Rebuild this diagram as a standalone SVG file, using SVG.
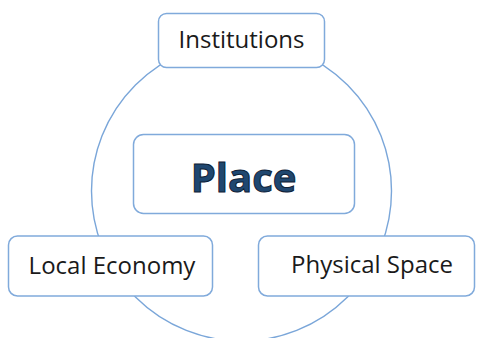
<svg xmlns="http://www.w3.org/2000/svg" width="477" height="338" viewBox="0 0 477 338">
<style>
.box{fill:#ffffff;stroke:#80aadb;stroke-width:1.5}
.lbl{font-family:"Open Sans","Noto Sans",sans-serif;font-size:24px;fill:#1a1a1a;text-anchor:middle}
.main{font-family:"Open Sans","Noto Sans",sans-serif;font-size:40px;font-weight:bold;fill:#1f4770;stroke:#0e2035;stroke-width:1;text-anchor:middle}
</style>
<rect width="477" height="338" fill="#ffffff"/>
<g id="connectors">
<circle cx="241.5" cy="191" r="150" fill="none" stroke="#7aa6d9" stroke-width="1.4"/>
</g>
<g id="institutions">
<rect class="box" x="158.5" y="13.5" width="166" height="54" rx="8"/>
<text class="lbl" x="241.5" y="48">Institutions</text>
</g>
<g id="place">
<rect class="box" x="133.5" y="134.5" width="221" height="79" rx="10"/>
<text class="main" x="243.5" y="192">Place</text>
</g>
<g id="local-economy">
<rect class="box" x="8.5" y="236" width="204" height="60" rx="9"/>
<text class="lbl" x="112" y="274">Local Economy</text>
</g>
<g id="physical-space">
<rect class="box" x="258.5" y="236" width="216" height="60" rx="9"/>
<text class="lbl" x="372" y="273">Physical Space</text>
</g>
</svg>
